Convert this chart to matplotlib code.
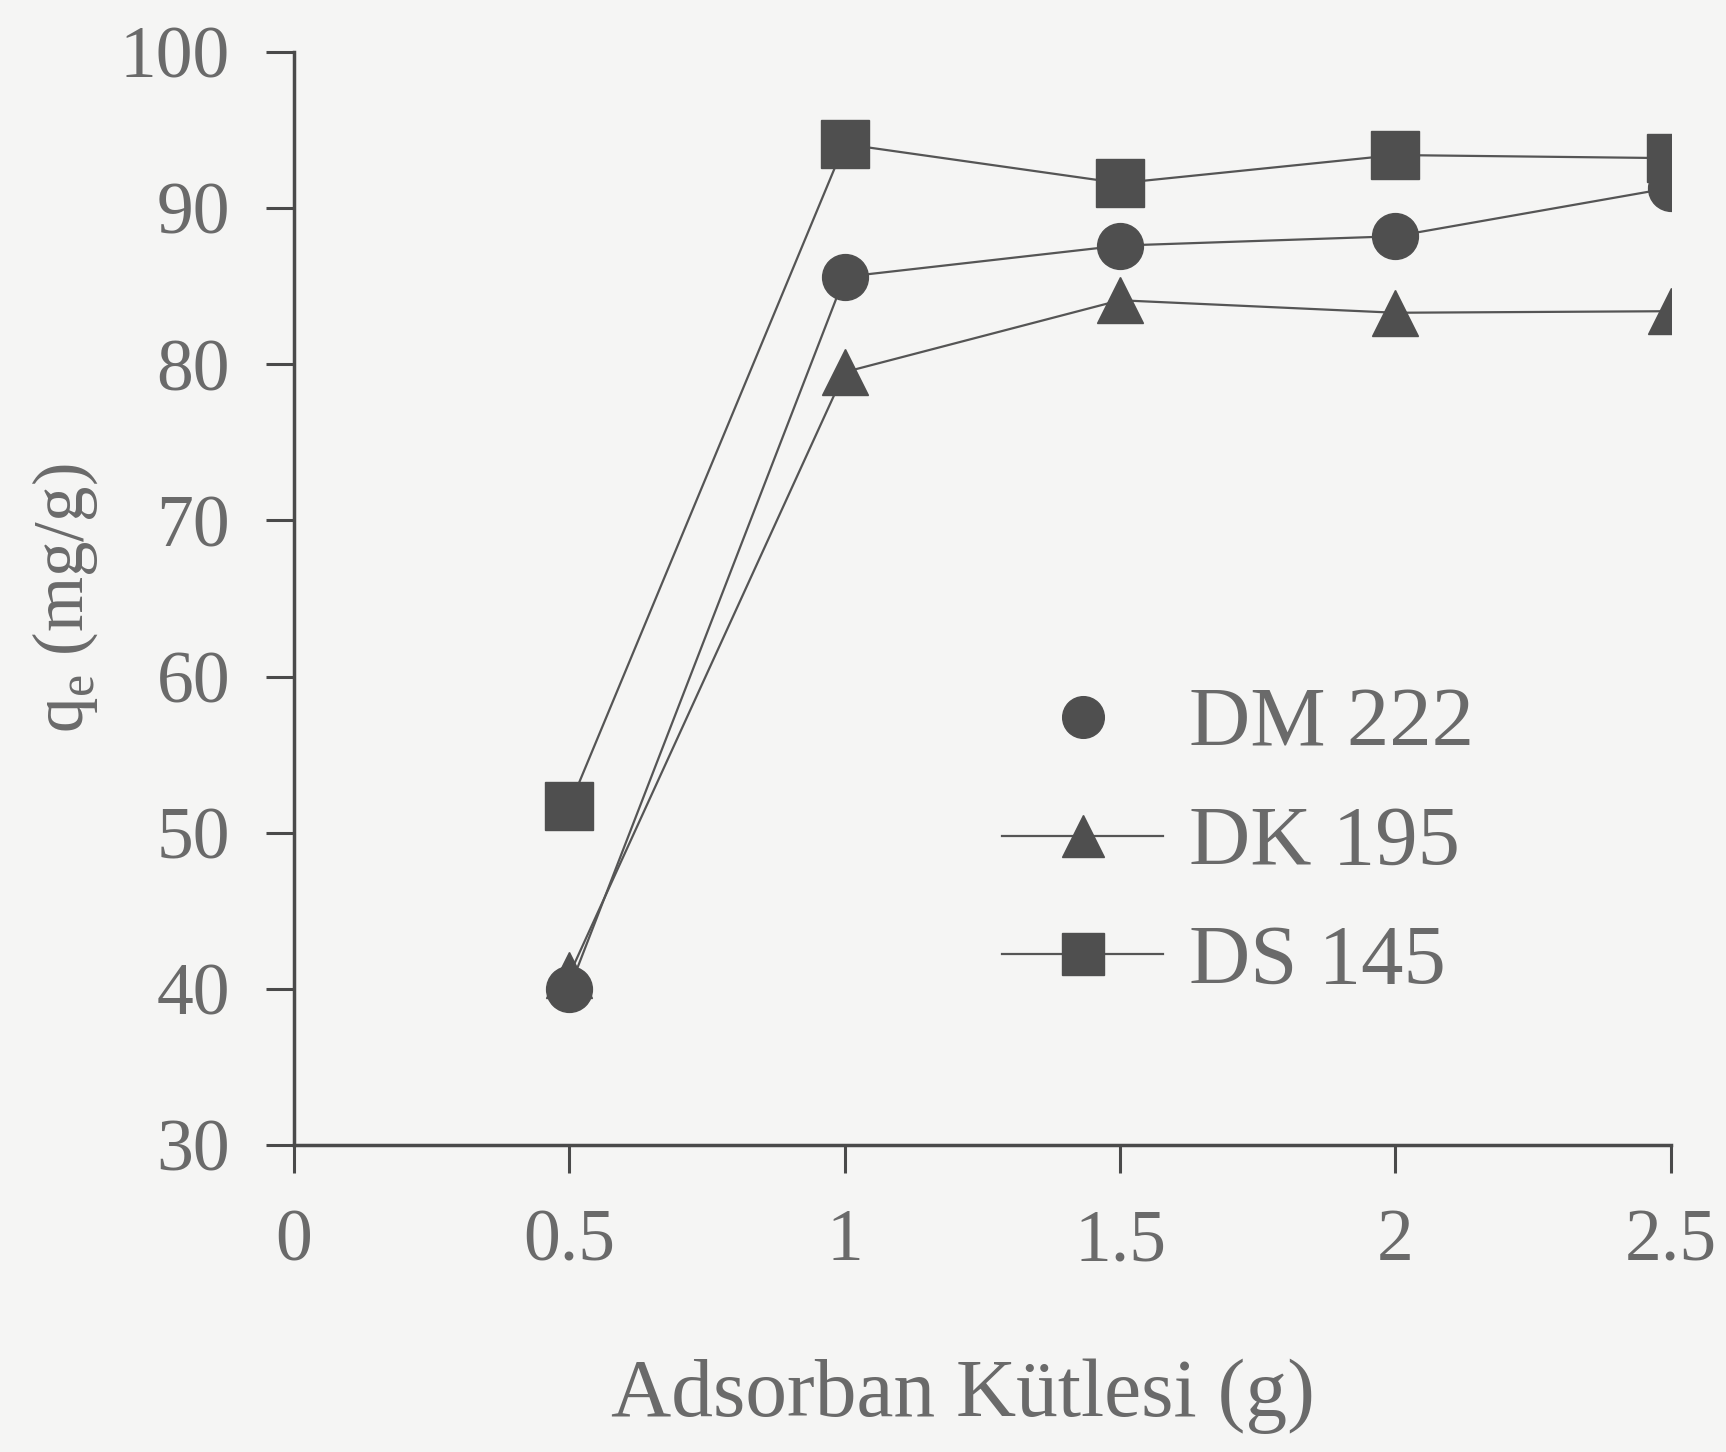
import matplotlib
matplotlib.use("Agg")
import matplotlib.pyplot as plt
from matplotlib.lines import Line2D

mass = [0.5, 1.0, 1.5, 2.0, 2.5]
dm222 = [40.0, 85.6, 87.6, 88.2, 91.3]
dk195 = [40.9, 79.5, 84.1, 83.3, 83.4]
ds145 = [51.7, 94.1, 91.6, 93.4, 93.2]
xticks = [0, 0.5, 1, 1.5, 2, 2.5]
xticklabels = ["0", "0.5", "1", "1.5", "2", "2.5"]
yticks = [30, 40, 50, 60, 70, 80, 90, 100]

plt.rcParams['font.family'] = ['Liberation Serif', 'DejaVu Serif']
bg = '#f5f5f4'
tc = '#6a6a6a'
lc = '#555555'

fig = plt.figure(figsize=(17.26, 14.52), dpi=100, facecolor=bg)
ax = fig.add_axes([0.1703, 0.2114, 0.7977, 0.7528], facecolor=bg)

ax.plot(mass, ds145, color=lc, lw=1.6, marker='s', ms=34, mfc='#4f4f4f', mec='#4f4f4f')
ax.plot(mass, dm222, color=lc, lw=1.6, marker='o', ms=33, mfc='#4f4f4f', mec='#4f4f4f')
ax.plot(mass, dk195, color=lc, lw=1.6, marker='^', ms=33, mfc='#4f4f4f', mec='#4f4f4f')

ax.set_xlim(0, 2.5)
ax.set_ylim(30, 100)
ax.set_xticks(xticks)
ax.set_xticklabels(xticklabels)
ax.set_yticks(yticks)
for s in ['top', 'right']:
    ax.spines[s].set_visible(False)
for s in ['left', 'bottom']:
    ax.spines[s].set_color('#4a4a4a')
    ax.spines[s].set_linewidth(2.5)
ax.tick_params(axis='both', direction='out', length=20, width=2.2, color='#4a4a4a',
               labelsize=53, labelcolor=tc)
ax.tick_params(axis='x', pad=26)
ax.tick_params(axis='y', pad=26)

ax.set_xlabel('Adsorban Kütlesi (g)', fontsize=60, color=tc)
ax.xaxis.set_label_coords(0.486, -0.195)
ax.set_ylabel('q$_\\mathregular{e}$ (mg/g)', fontsize=51, color=tc, labelpad=14)

handles = [
    Line2D([], [], ls='none', marker='o', ms=30, color='#4f4f4f'),
    Line2D([], [], color=lc, lw=1.6, marker='^', ms=30, mfc='#4f4f4f', mec='#4f4f4f'),
    Line2D([], [], color=lc, lw=1.6, marker='s', ms=30, mfc='#4f4f4f', mec='#4f4f4f'),
]
leg = ax.legend(handles, ['DM 222', 'DK 195', 'DS 145'], loc='upper left',
                bbox_to_anchor=(0.49, 0.45), frameon=False, fontsize=61,
                handlelength=1.9, handletextpad=0.3, labelspacing=0.49,
                borderaxespad=0)
for t in leg.get_texts():
    t.set_color(tc)

fig.savefig('out.png', dpi=100, facecolor=bg)
